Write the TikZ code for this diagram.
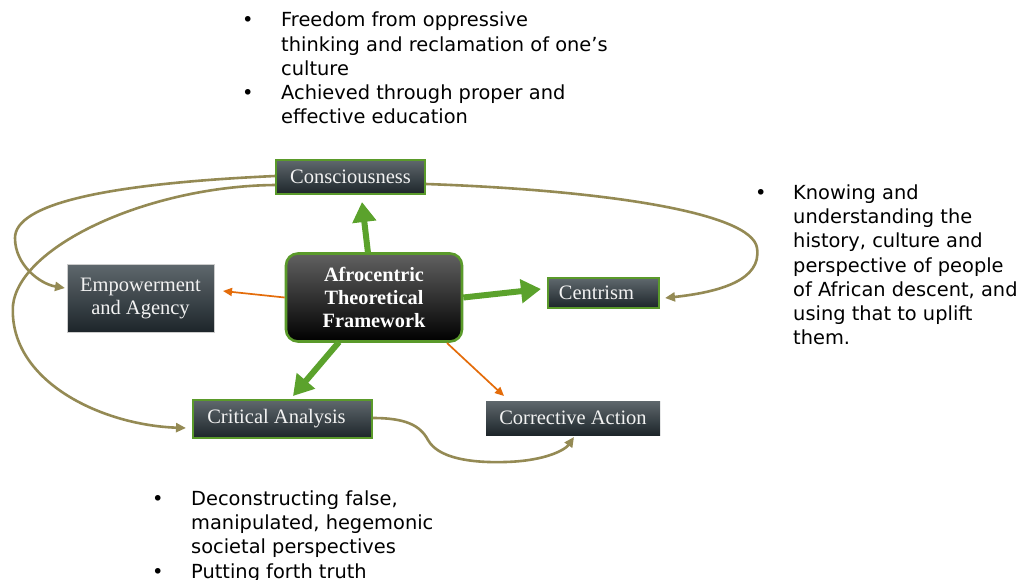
\documentclass[tikz,border=0pt]{standalone}
\usepackage{fontspec}
\setmainfont{Liberation Serif}
\newfontfamily\notefont{DejaVu Sans}
\usetikzlibrary{arrows.meta}

\definecolor{boxtop}{HTML}{5F686D}
\definecolor{boxbot}{HTML}{1D252A}
\definecolor{boxtext}{HTML}{F2F2F2}
\definecolor{framegreen}{HTML}{5A9A2A}
\definecolor{arrowgreen}{HTML}{5BA22C}
\definecolor{arroworange}{HTML}{E46C0A}
\definecolor{tanline}{HTML}{948A54}

\tikzset{
  conceptbox/.style={rectangle, top color=boxtop, bottom color=boxbot,
    text=boxtext, font=\fontsize{20.5}{23}\selectfont, inner sep=0pt,
    align=center},
  greenframe/.style={draw=framegreen, line width=1.8pt},
  greyframe/.style={draw=gray!40, line width=0.6pt},
  corebox/.style={rectangle, rounded corners=12pt, top color=black!62,
    bottom color=black, draw=framegreen, line width=2.6pt, text=white,
    font=\fontsize{20.3}{23}\selectfont\bfseries, align=center, inner sep=0pt},
  bigarrow/.style={draw=arrowgreen, line width=6pt,
    -{Triangle[length=20pt,width=23pt]}},
  thinarrow/.style={draw=arroworange, line width=1.7pt,
    -{Triangle[length=9pt,width=8pt]}},
  loopline/.style={draw=tanline, line width=2.6pt,
    -{Triangle[length=10pt,width=9pt]}},
  notetext/.style={font=\notefont\fontsize{19.4}{24.2}\selectfont,
    anchor=north west, align=left, inner sep=0pt, text=black},
}

\begin{document}
\begin{tikzpicture}[x=1pt,y=-1pt]
\useasboundingbox[fill=white] (0,0) rectangle (1030,579);

% concept boxes
\node[conceptbox, greenframe, minimum width=149pt, minimum height=34pt]
  (cons) at (350.5,177) {Consciousness};
\node[conceptbox, greyframe, minimum width=147pt, minimum height=68pt]
  (emp) at (140.5,298) {Empowerment\\and Agency};
\node[corebox, minimum width=176pt, minimum height=88pt]
  (core) at (374,297.5) {Afrocentric\\Theoretical\\Framework};
\node[conceptbox, greenframe, minimum width=111pt, minimum height=30pt]
  (cent) at (603.5,293) {Centrism\hspace{14pt}};
\node[conceptbox, greenframe, minimum width=179pt, minimum height=38pt]
  (crit) at (282.5,419) {Critical Analysis\hspace{12pt}};
\node[conceptbox, minimum width=174pt, minimum height=34pt]
  (corr) at (573,418) {Corrective Action};

% arrow end points
\coordinate (consin) at (362,202);
\coordinate (centin) at (541,289);
\coordinate (critin) at (293,396);
\coordinate (empin)  at (223,291);
\coordinate (corrin) at (504,396);

% arrows leaving the framework
\draw[bigarrow] (368,253) -- (consin);
\draw[bigarrow] (core.east) -- (centin);
\draw[bigarrow] (339,342) -- (critin);
\draw[thinarrow] (core.west) -- (empin);
\draw[thinarrow] (447,343) -- (corrin);

% links between the concepts
\coordinate (consw1) at (cons.west |- 0,176);
\coordinate (consw2) at (cons.west |- 0,185);
\coordinate (conse)  at (cons.east |- 0,184);
\coordinate (crite)  at (crit.east |- 0,418);
\draw[loopline] (consw1) .. controls (100,184) and (15,205) .. (15,238)
  .. controls (15,265) and (40,284) .. (65,288);
\draw[loopline] (consw2) .. controls (150,186) and (20,245) .. (13,305)
  .. controls (8,380) and (100,425) .. (186,428);
\draw[loopline] (conse) .. controls (600,190) and (752,212) .. (757,248)
  .. controls (762,280) and (720,292) .. (665,298);
\draw[loopline] (crite) .. controls (405,418) and (420,425) .. (428,440)
  .. controls (438,458) and (470,463) .. (505,462)
  .. controls (545,461) and (565,450) .. (574,437);

% notes
\node[notetext] (notetop) at (242,12) {%
  \makebox[39pt][l]{•}Freedom from oppressive\\
  \hspace*{39pt}thinking and reclamation of one’s\\
  \hspace*{39pt}culture\\
  \makebox[39pt][l]{•}Achieved through proper and\\
  \hspace*{39pt}effective education};
\node[notetext] (noteright) at (755,184.5) {%
  \makebox[38pt][l]{•}Knowing and\\
  \hspace*{38pt}understanding the\\
  \hspace*{38pt}history, culture and\\
  \hspace*{38pt}perspective of people\\
  \hspace*{38pt}of African descent, and\\
  \hspace*{38pt}using that to uplift\\
  \hspace*{38pt}them.};
\node[notetext] (notebottom) at (152,490.5) {%
  \makebox[39pt][l]{•}Deconstructing false,\\
  \hspace*{39pt}manipulated, hegemonic\\
  \hspace*{39pt}societal perspectives\\
  \makebox[39pt][l]{•}Putting forth truth};
\end{tikzpicture}
\end{document}
